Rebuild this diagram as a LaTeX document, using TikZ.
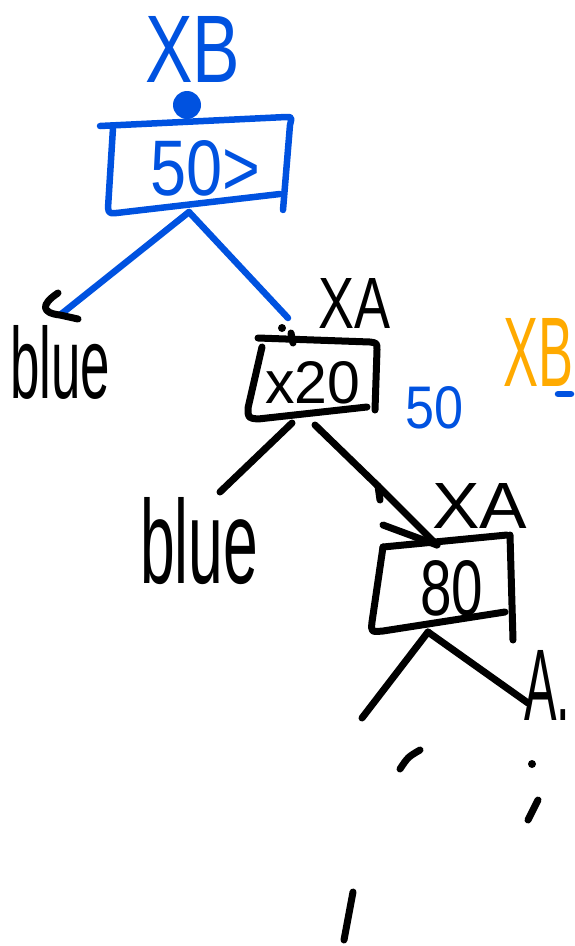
\documentclass[tikz,border=0pt]{standalone}
\usepackage{fontspec}
\setmainfont{Liberation Sans}
\usepackage{graphicx}
\definecolor{pblue}{RGB}{0,82,224}
\definecolor{porange}{RGB}{255,170,0}
\newcommand{\hw}[3]{\resizebox{#1pt}{#2pt}{#3}}
\begin{document}
\begin{tikzpicture}[x=1pt,y=-1pt,
  blk/.style={line width=7pt,line cap=round,line join=round,draw=black},
  blu/.style={line width=6.5pt,line cap=round,line join=round,draw=pblue},
  txt/.style={inner sep=0pt,anchor=base west}]
\useasboundingbox (0,0) rectangle (574,946);
% ---------- root box (blue)
\node[txt,text=pblue] (xbtop) at (145,82) {\hw{95}{66}{XB}};
\fill[pblue] (187,105) circle (14);
\draw[blu] (100,126) -- (286,117) .. controls (292,117) .. (290,125) -- (283,210);
\draw[blu] (113,128) -- (108,208) .. controls (109,214) .. (125,212) -- (280,194);
\node[txt,text=pblue] (root) at (150,195) {\hw{110}{55}{50>}};
\coordinate (rootb) at (189,212);
\coordinate (lleaf) at (60,315);
\coordinate (n2top) at (288,318);
\draw[blu] (rootb) -- (lleaf);
\draw[blu] (rootb) -- (n2top);
\draw[blk] (58,293) .. controls (40,305) and (42,313) .. (60,315) -- (78,319);
\node[txt] (blue1) at (10,398) {\hw{100}{73}{blue}};
% ---------- second box
\node[txt] (xa) at (318,328) {\hw{72}{50}{XA}};
\fill (282,328) circle (4);
\draw[blk] (291,333) -- (293,343);
\draw[blk] (258,338) -- (370,342) .. controls (377,343) .. (377,350) -- (375,410);
\draw[blk] (262,347) -- (248,408) .. controls (248,418) .. (258,419) -- (367,407);
\node[txt] (n2) at (265,403) {\hw{95}{42}{x20}};
\node[txt,text=pblue] (fifty) at (405,428) {\hw{58}{42}{50}};
\node[txt,text=porange] (xbor) at (503,386) {\hw{70}{68}{XB}};
\draw[blu] (558,394) -- (571,394);
\coordinate (n2bl) at (292,423);
\coordinate (n2br) at (315,425);
\coordinate (bl2) at (220,492);
\coordinate (mid) at (380,488);
\coordinate (n3top) at (437,545);
\draw[blk] (n2bl) -- (bl2);
\draw[blk] (n2br) -- (mid) -- (n3top);
\draw[blk] (378,486) -- (380,500);
\draw[blk] (383,525) -- (n3top);
\node[txt] (blue2) at (140,583) {\hw{118}{86}{blue}};
% ---------- third box
\node[txt] (xr) at (432,528) {\hw{95}{45}{XA}};
\draw[blk] (383,547) -- (507,535);
\draw[blk] (510,535) -- (513,640);
\draw[blk] (383,547) -- (372,622) .. controls (371,632) .. (383,631) -- (505,612);
\node[txt] (n3) at (420,615) {\hw{63}{55}{80}};
\coordinate (n3b) at (428,632);
\coordinate (ll3) at (362,718);
\coordinate (lr3) at (528,703);
\draw[blk] (n3b) -- (ll3);
\draw[blk] (n3b) -- (lr3);
\node[txt] (adot) at (524,720) {\hw{46}{70}{A.}};
% ---------- dashes
\draw[blk] (400,769) .. controls (408,757) .. (420,750);
\fill (532,764) circle (4);
\draw[blk] (538,800) -- (528,820);
\draw[blk] (353,892) -- (344,940);
\end{tikzpicture}
\end{document}
